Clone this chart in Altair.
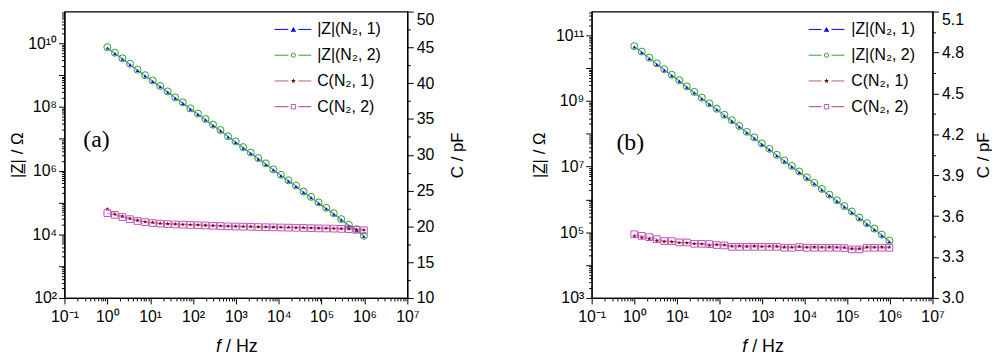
import altair as alt
import pandas as pd

# ---------------- data ----------------
freq = [1, 1.5, 2.25, 3.38, 5.06, 7.59, 11.4, 17.1, 25.6, 38.4, 57.7, 86.5,
        130, 195, 292, 438, 657, 985, 1478, 2217, 3325, 4988, 7482,
        11220, 16830, 25250, 37880, 56820, 85220,
        127800, 191800, 287600, 431400, 647200, 970700]

# panel (a)
za1 = [7.1e9, 4.7e9, 3.2e9, 2.1e9, 1.4e9, 9.4e8,
       6.3e8, 4.3e8, 2.9e8, 1.9e8, 1.3e8, 8.5e7,
       5.8e7, 3.9e7, 2.6e7, 1.75e7, 1.15e7, 7.7e6,
       5.1e6, 3.45e6, 2.3e6, 1.55e6, 1.05e6, 6.9e5,
       4.65e5, 3.15e5, 2.05e5, 1.4e5, 9.3e4, 6.3e4,
       4.3e4, 2.8e4, 1.85e4, 1.35e4, 8.5e3]
za2 = [7.6e9, 5.1e9, 3.4e9, 2.3e9, 1.5e9, 1.0e9,
       6.8e8, 4.6e8, 3.1e8, 2.0e8, 1.4e8, 9.1e7,
       6.2e7, 4.2e7, 2.8e7, 1.9e7, 1.2e7, 8.3e6,
       5.5e6, 3.7e6, 2.5e6, 1.7e6, 1.1e6, 7.4e5,
       5.0e5, 3.4e5, 2.2e5, 1.5e5, 1.0e5, 6.8e4,
       4.6e4, 3.0e4, 2.0e4, 1.45e4, 9.0e3]
ca1 = [22.4, 21.7, 21.4, 21.1, 20.85, 20.65,
       20.55, 20.42, 20.36, 20.33, 20.28, 20.24,
       20.2, 20.15, 20.11, 20.07, 20.03, 20.01,
       19.99, 19.97, 19.94, 19.92, 19.9, 19.88,
       19.86, 19.84, 19.82, 19.79, 19.76, 19.74,
       19.72, 19.69, 19.64, 19.56, 19.5]
ca2 = [21.85, 21.6, 21.3, 21.0, 20.75, 20.6,
       20.46, 20.38, 20.32, 20.27, 20.24, 20.2,
       20.16, 20.12, 20.08, 20.04, 20.0, 19.98,
       19.96, 19.94, 19.9, 19.88, 19.86, 19.84,
       19.82, 19.8, 19.78, 19.75, 19.72, 19.7,
       19.68, 19.65, 19.6, 19.52, 19.45]

# panel (b)
zb1 = [4.4e10, 3.0e10, 1.95e10, 1.3e10, 8.6e9, 5.9e9,
       4.0e9, 2.6e9, 1.75e9, 1.17e9, 7.9e8, 5.4e8,
       3.5e8, 2.4e8, 1.62e8, 1.07e8, 7.3e7, 4.7e7,
       3.25e7, 2.15e7, 1.45e7, 9.8e6, 6.6e6, 4.4e6,
       3.0e6, 1.95e6, 1.3e6, 8.8e5, 5.9e5, 4.0e5,
       2.6e5, 1.77e5, 1.2e5, 7.9e4, 5.2e4]
zb2 = [4.7e10, 3.2e10, 2.1e10, 1.4e10, 9.3e9, 6.3e9,
       4.3e9, 2.8e9, 1.9e9, 1.26e9, 8.5e8, 5.8e8,
       3.8e8, 2.6e8, 1.74e8, 1.15e8, 7.8e7, 5.1e7,
       3.5e7, 2.3e7, 1.55e7, 1.05e7, 7.1e6, 4.7e6,
       3.2e6, 2.1e6, 1.4e6, 9.5e5, 6.3e5, 4.3e5,
       2.8e5, 1.9e5, 1.3e5, 8.5e4, 5.6e4]
cb1 = [3.452, 3.443, 3.433, 3.420, 3.414, 3.412,
       3.405, 3.404, 3.398, 3.396, 3.385, 3.392,
       3.389, 3.380, 3.382, 3.379, 3.381, 3.378,
       3.380, 3.379, 3.373, 3.372, 3.377, 3.372,
       3.373, 3.372, 3.373, 3.372, 3.371, 3.362,
       3.362, 3.373, 3.372, 3.373, 3.372]
cb2 = [3.467, 3.455, 3.446, 3.431, 3.417, 3.417,
       3.407, 3.407, 3.397, 3.397, 3.395, 3.388,
       3.385, 3.375, 3.375, 3.375, 3.375, 3.375,
       3.375, 3.375, 3.368, 3.368, 3.373, 3.368,
       3.368, 3.368, 3.368, 3.368, 3.366, 3.356,
       3.356, 3.368, 3.368, 3.368, 3.368]

series = ["|Z|(N\u2082, 1)", "|Z|(N\u2082, 2)", "C(N\u2082, 1)", "C(N\u2082, 2)"]
x_exps = [-1, 0, 1, 2, 3, 4, 5, 6, 7]
za_exps = [2, 4, 6, 8, 10]
zb_exps = [3, 5, 7, 9, 11]
ca_ticks = [10, 15, 20, 25, 30, 35, 40, 45, 50]
cb_ticks = [3.0, 3.3, 3.6, 3.9, 4.2, 4.5, 4.8, 5.1]

# ---------------- styling ----------------
FONT = "Liberation Sans"
STAR = ("M0,-1L0.2245,-0.309L0.951,-0.309L0.363,0.118L0.588,0.809L0,0.382"
        "L-0.588,0.809L-0.363,0.118L-0.951,-0.309L-0.2245,-0.309Z")
MARK_COLORS = ["#0000ff", "#2ca02c", "#800000", "#c050c0"]
LINE_COLORS = ["#0000ff", "#2ca02c", "#c06060", "#a040a0"]
SHAPES = ["triangle-up", "circle", STAR, "square"]
FILLED = [True, False, True, False]
SIZES = [12, 50, 22, 46]
LEG_SIZES = [32, 18, 30, 20]

SUP = str.maketrans("0123456789-", "\u2070\u00b9\u00b2\u00b3\u2074\u2075\u2076\u2077\u2078\u2079\u207b")


def pow_label(e):
    return "10" + str(e).translate(SUP)


LOGE = "(log(datum.value)/LN10)"
MAJOR_LOG = f"abs({LOGE} - round({LOGE})) < 0.001"


def log_label_expr(exps):
    parts = [f"abs({LOGE} - ({e})) < 0.001 ? '{pow_label(e)}'" for e in exps]
    return " : ".join(parts) + " : ''"


def log_ticks(lo, hi, top):
    vals = []
    for e in range(lo, hi + 1):
        for m in range(1, 10):
            v = m * 10.0 ** e
            if v <= top * 1.0001:
                vals.append(v)
    return vals


TICK_LOG = {"condition": {"test": MAJOR_LOG, "value": 6}, "value": 3}

xaxis = alt.Axis(values=log_ticks(-1, 7, 1e7), labelExpr=log_label_expr(x_exps),
                 tickSize=TICK_LOG, title=None, labelPadding=5, labelFlush=False,
                 labelOverlap=False, grid=False)
xenc = alt.X("f:Q", scale=alt.Scale(type="log", domain=[0.1, 1e7], nice=False), axis=xaxis)

one = pd.DataFrame({"k": [0]})


def panel(tag, z1, z2, c1, c2, zdom, zexps, cdom, cticks, cminor, cfmt,
          W, H, leg, tagpos, zpad, cpad):
    ztop = zdom[1] * 0.45
    zaxis = alt.Axis(values=log_ticks(zexps[0] - 1, zexps[-1], zdom[1]),
                     labelExpr=log_label_expr(zexps), tickSize=TICK_LOG,
                     labelBaseline={"condition": {"test": f"datum.value > {ztop}",
                                                  "value": "top"}, "value": "middle"},
                     title="|Z\u0332| / \u03a9", titlePadding=zpad, labelPadding=2,
                     labelFlush=False, labelOverlap=False, grid=False, orient="left")
    yz = alt.Y("v:Q", scale=alt.Scale(type="log", domain=zdom, nice=False), axis=zaxis)

    cvals = sorted(set([round(v, 3) for v in cticks] + [round(v, 3) for v in cminor]))
    majors = "[" + ",".join(str(v) for v in cticks) + "]"
    cmaj = f"indexof({majors}, round(datum.value*1000)/1000) >= 0"
    caxis = alt.Axis(values=cvals, orient="right", title="C / pF", titleAngle=270,
                     titleBaseline="top", titlePadding=cpad, labelPadding=3,
                     labelExpr=f"{cmaj} ? format(datum.value, '{cfmt}') : ''",
                     tickSize={"condition": {"test": cmaj, "value": 6}, "value": 3},
                     labelBaseline={"condition": {"test": f"datum.value >= {cminor[-1]}",
                                                  "value": "top"}, "value": "middle"},
                     labelFlush=False, labelOverlap=False, grid=False)
    yc = alt.Y("v:Q", scale=alt.Scale(domain=cdom, nice=False, zero=False), axis=caxis)

    vals = [z1, z2, c1, c2]
    lines, pts = [], []
    for i in range(4):
        df = pd.DataFrame({"f": freq, "v": vals[i]})
        y = yz if i < 2 else yc
        lines.append(alt.Chart(df).mark_line(color=LINE_COLORS[i], strokeWidth=0.6)
                     .encode(x=xenc, y=y))
        pts.append(alt.Chart(df).mark_point(shape=SHAPES[i], size=SIZES[i],
                                            filled=FILLED[i], color=MARK_COLORS[i],
                                            strokeWidth=1, opacity=1)
                   .encode(x=xenc, y=y))

    # legend (drawn inside the plot, top right): line - symbol - line
    lx0, lx1, lxm, ltx, ly0, ldy = leg
    ann = []
    for i in range(4):
        yy = ly0 + i * ldy
        for a, b in ((lx0, lxm - 5), (lxm + 5, lx1)):
            ann.append(alt.Chart(one).mark_rule(color=LINE_COLORS[i], strokeWidth=1)
                       .encode(x=alt.value(a), x2=alt.value(b), y=alt.value(yy)))
        ann.append(alt.Chart(one).mark_point(shape=SHAPES[i], size=LEG_SIZES[i],
                                             filled=FILLED[i], color=MARK_COLORS[i],
                                             strokeWidth=1, opacity=1)
                   .encode(x=alt.value(lxm), y=alt.value(yy)))
        ann.append(alt.Chart(one).mark_text(align="left", baseline="middle", font=FONT,
                                            fontSize=16, color="black")
                   .encode(x=alt.value(ltx), y=alt.value(yy), text=alt.value(series[i])))
    # panel tag
    ann.append(alt.Chart(one).mark_text(align="left", baseline="middle",
                                        font="Liberation Serif", fontSize=24, color="black")
               .encode(x=alt.value(tagpos[0]), y=alt.value(tagpos[1]), text=alt.value(tag)))
    # x-axis title: italic f + " / Hz"
    ann.append(alt.Chart(one).mark_text(align="right", baseline="alphabetic", font=FONT,
                                        fontSize=18, fontStyle="italic", color="black")
               .encode(x=alt.value(W / 2 - 15), y=alt.value(H + 55), text=alt.value("f")))
    ann.append(alt.Chart(one).mark_text(align="left", baseline="alphabetic", font=FONT,
                                        fontSize=18, color="black")
               .encode(x=alt.value(W / 2 - 10), y=alt.value(H + 55), text=alt.value("/ Hz")))

    zgroup = alt.layer(lines[0], lines[1], pts[0], pts[1], *ann)
    cgroup = alt.layer(lines[2], lines[3], pts[2], pts[3])
    return (alt.layer(zgroup, cgroup).resolve_scale(y="independent")
            .properties(width=W, height=H))


H = 289
pa = panel("(a)", za1, za2, ca1, ca2, [1e2, 1e11], za_exps, [10, 50], ca_ticks,
           [12.5, 17.5, 22.5, 27.5, 32.5, 37.5, 42.5, 47.5], ".0f",
           346, H, (212, 249, 231, 255, 18, 26), (19, 130), 1, 16)
pb = panel("(b)", zb1, zb2, cb1, cb2, [1e3, 5.3e11], zb_exps, [3.0, 5.1], cb_ticks,
           [3.15, 3.45, 3.75, 4.05, 4.35, 4.65, 4.95], ".1f",
           344, H, (219, 255, 237, 262, 18, 26), (25, 133), 7, 12)

chart = (alt.hconcat(pa, pb, spacing=63)
         .properties(padding=0)
         .configure_view(stroke="black", strokeWidth=1.2)
         .configure_axis(labelFont=FONT, labelFontSize=16, labelColor="black",
                         titleFont=FONT, titleFontSize=17, titleFontWeight="normal",
                         titleColor="black", domainColor="black", domainWidth=1.2,
                         tickColor="black", tickWidth=1))

chart.save("out.html", embed_options={"renderer": "svg", "actions": False})
